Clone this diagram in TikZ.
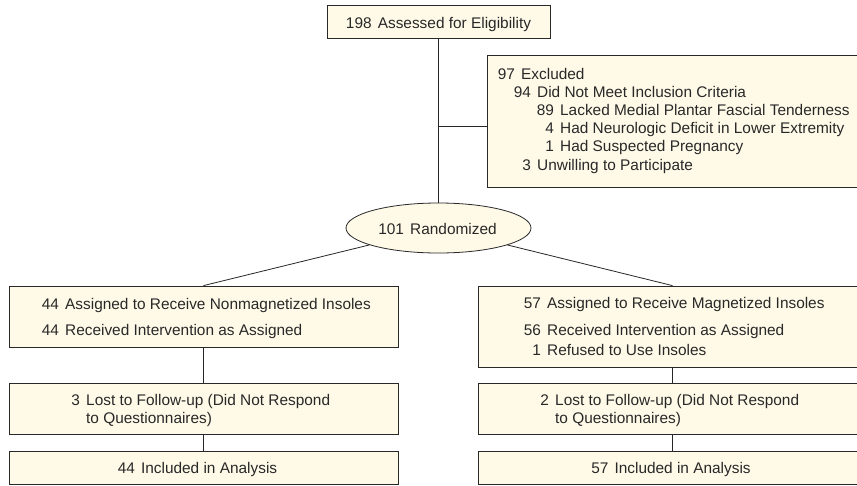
\documentclass[tikz,border=0pt]{standalone}
\usepackage{fontspec}
\setmainfont{Liberation Sans}
\usetikzlibrary{shapes.geometric}
\definecolor{cream}{RGB}{255,250,232}
\definecolor{ink}{RGB}{40,40,40}
\newcommand\hnum[1]{\makebox[0pt][r]{#1\hskip0.4em}}
\newcommand\ngap{\hskip0.4em}
\begin{document}
\begin{tikzpicture}[x=1pt,y=-1pt,
  box/.style={draw=ink, fill=cream, line width=0.8pt, rectangle, inner sep=0pt},
  ellbox/.style={draw=ink, fill=cream, line width=0.8pt, ellipse, inner sep=0pt},
  conn/.style={draw=black!85, line width=0.8pt},
  txt/.style={inner sep=0pt, anchor=base west, text=ink, font=\fontsize{15.4}{18}\selectfont},
  ctxt/.style={txt, anchor=base}]
\useasboundingbox (0,0) rectangle (857,485);
\clip (0,0) rectangle (857,485);

% boxes
\node[box, minimum width=223pt, minimum height=33pt] (top) at (438.5,21.5) {};
\node[box, minimum width=383pt, minimum height=132pt] (excl) at (678.5,121) {};
\node[ellbox, minimum width=185pt, minimum height=50pt] (ell) at (438.5,228) {};
\node[box, minimum width=389pt, minimum height=61pt] (b1L) at (203.5,316.5) {};
\node[box, minimum width=389pt, minimum height=81pt] (b1R) at (672.5,326.5) {};
\node[box, minimum width=389pt, minimum height=51pt] (b2L) at (203.5,408.5) {};
\node[box, minimum width=389pt, minimum height=51pt] (b2R) at (672.5,408.5) {};
\node[box, minimum width=389pt, minimum height=33pt] (b3L) at (203.5,467.5) {};
\node[box, minimum width=389pt, minimum height=33pt] (b3R) at (672.5,467.5) {};

% connectors
\coordinate (j) at (438.5,126);
\draw[conn] (top.south) -- (ell.north);
\draw[conn] (j) -- (j -| excl.west);
\draw[conn] (ell) -- (b1L.north);
\draw[conn] (ell) -- (b1R.north);
\draw[conn] (b1L.south) -- (b2L.north);
\draw[conn] (b2L.south) -- (b3L.north);
\draw[conn] (b1R.south) -- (b2R.north);
\draw[conn] (b2R.south) -- (b3R.north);

% texts
\node[ctxt] (t0) at (438.5,28) {198\ngap Assessed for Eligibility};
\node[txt] (e1) at (521,79) {\hnum{97}Excluded};
\node[txt] (e2) at (537,97.2) {\hnum{94}Did Not Meet Inclusion Criteria};
\node[txt] (e3) at (560,115.4) {\hnum{89}Lacked Medial Plantar Fascial Tenderness};
\node[txt] (e4) at (560,133.6) {\hnum{4}Had Neurologic Deficit in Lower Extremity};
\node[txt] (e5) at (560,151.8) {\hnum{1}Had Suspected Pregnancy};
\node[txt] (e6) at (537,170) {\hnum{3}Unwilling to Participate};
\node[ctxt] (tr) at (437.5,234) {101\ngap Randomized};

\node[txt] (l1) at (65,309) {\hnum{44}Assigned to Receive Nonmagnetized Insoles};
\node[txt] (l2) at (65,335) {\hnum{44}Received Intervention as Assigned};
\node[txt] (r1) at (547,308) {\hnum{57}Assigned to Receive Magnetized Insoles};
\node[txt] (r2) at (547,335) {\hnum{56}Received Intervention as Assigned};
\node[txt] (r3) at (547,355) {\hnum{1}Refused to Use Insoles};

\node[txt] (l3) at (86,405) {\hnum{3}Lost to Follow-up (Did Not Respond};
\node[txt] (l4) at (86,423) {to Questionnaires)};
\node[txt] (r4) at (555,405) {\hnum{2}Lost to Follow-up (Did Not Respond};
\node[txt] (r5) at (555,423) {to Questionnaires)};

\node[ctxt] (l5) at (197.5,473) {44\ngap Included in Analysis};
\node[ctxt] (r6) at (671,473) {57\ngap Included in Analysis};
\end{tikzpicture}
\end{document}
